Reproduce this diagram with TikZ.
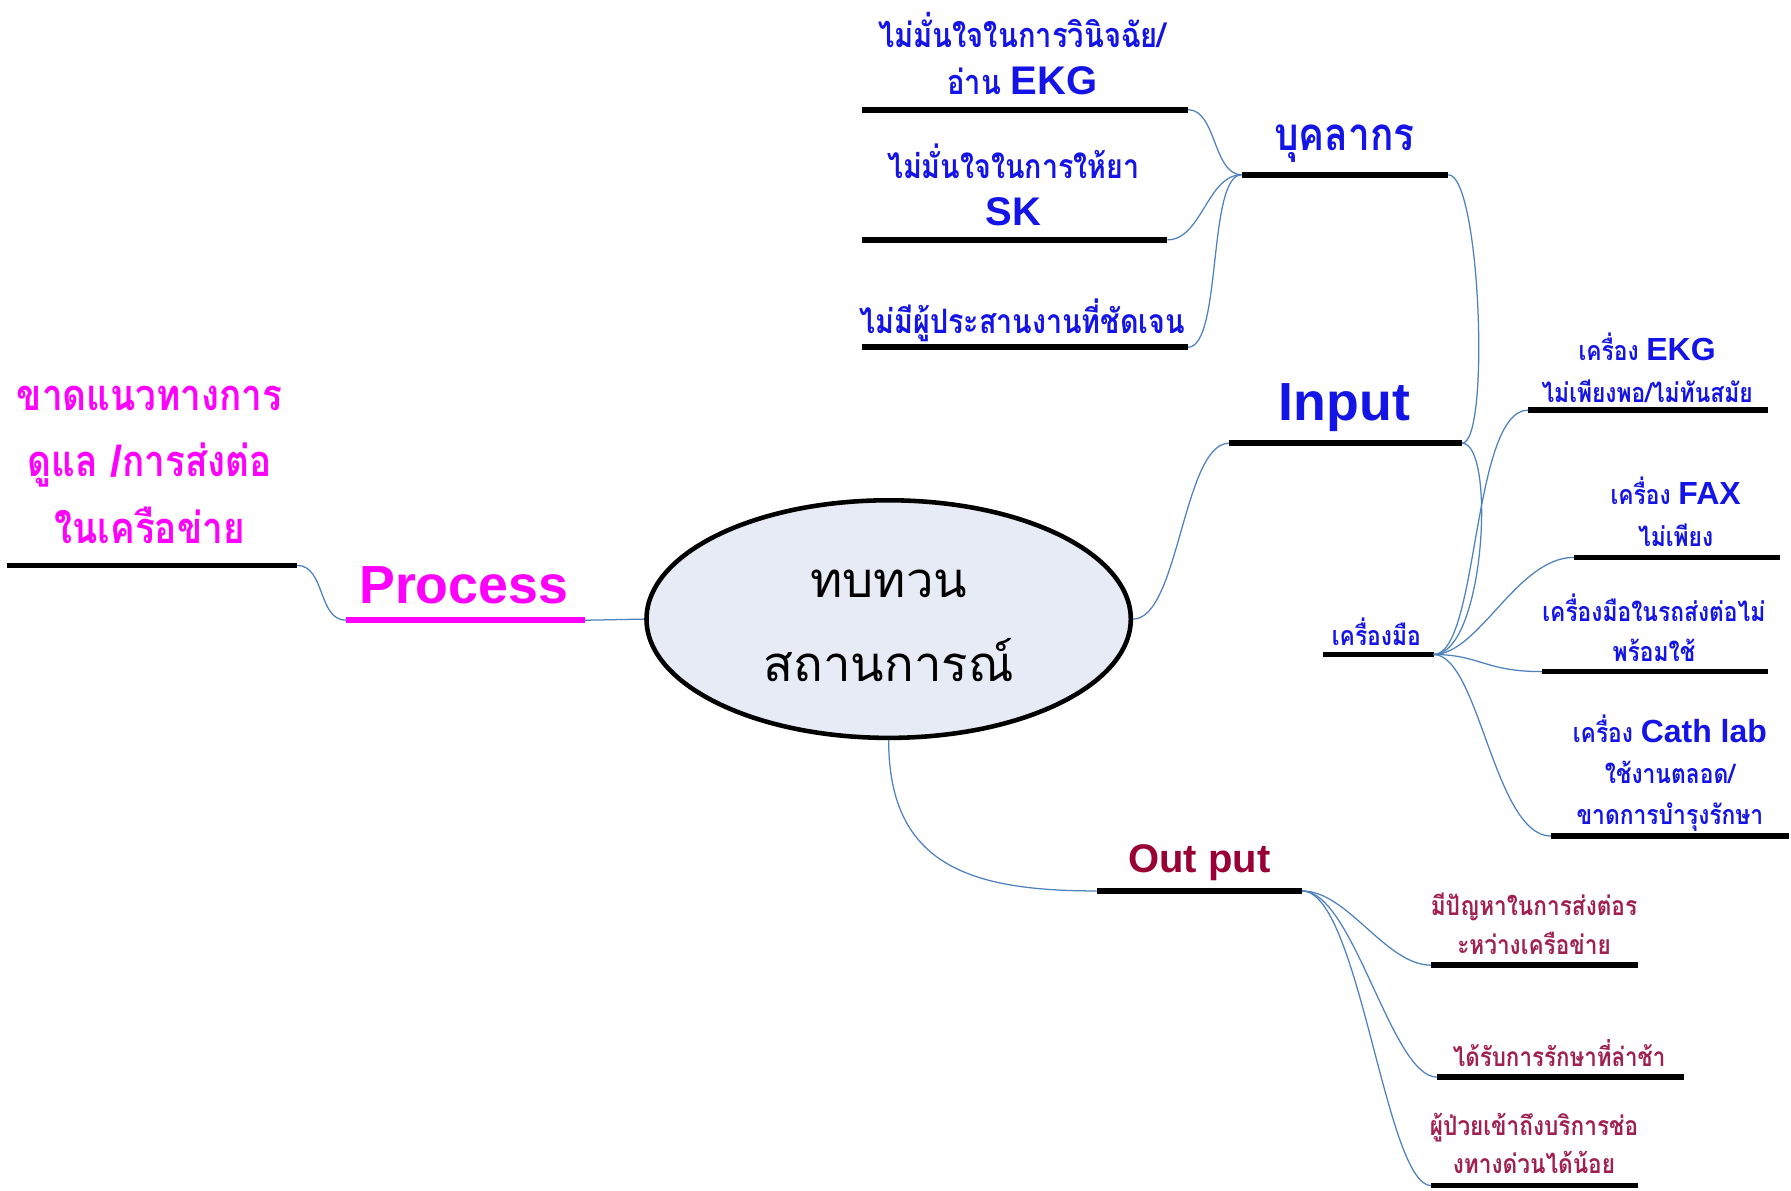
\documentclass[tikz,border=0pt]{standalone}
\usepackage{fontspec}
\newfontfamily\thai[Script=Thai]{Loma}
\newfontfamily\thaib[Script=Thai,FakeStretch=0.85]{Loma}
\newfontfamily\lat{Liberation Sans}
\usetikzlibrary{shapes.geometric}
\definecolor{tblue}{RGB}{20,20,230}
\definecolor{tmag}{RGB}{255,0,255}
\definecolor{tred}{RGB}{153,0,51}
\definecolor{tred2}{RGB}{160,32,80}
\definecolor{linkc}{RGB}{79,129,189}
\definecolor{efill}{RGB}{230,235,245}
\newcommand\eng[1]{{\lat\bfseries #1}}
\newcommand\fs[2]{\fontsize{#1}{#2}\selectfont}
\begin{document}
\begin{tikzpicture}[x=1pt,y=-1pt,
  bar/.style={line width=5pt},
  link/.style={draw=linkc, line width=1.1pt},
  txt/.style={inner sep=0pt, align=center}]
\useasboundingbox (0,0) rectangle (1568,1042);
% centre
\node[ellipse, draw, line width=4pt, fill=efill, minimum width=424pt, minimum height=208pt, inner sep=0pt] (c) at (778,542) {};
\node[txt, font={\thai\fs{43}{73}}] (ct) at (778,548) {ทบทวน\\สถานการณ์};
% Process
\node[txt, text=tmag, font={\lat\bfseries\fs{47}{50}}] (proct) at (406,512) {Process};
\coordinate (pa) at (303,543); \coordinate (pb) at (512,543);
\draw[bar, draw=tmag] (pa) -- (pb);
\node[txt, text=tmag, font={\thaib\bfseries\fs{38}{58}}] (qt) at (131,407) {ขาดแนวทางการ\\ดูแล \eng{/}การส่งต่อ\\ในเครือข่าย};
\coordinate (qa) at (6,495); \coordinate (qb) at (260,495);
\draw[bar] (qa) -- (qb);
% Input
\node[txt, text=tblue, font={\lat\bfseries\fs{47}{50}}] (int) at (1177,357) {Input};
\coordinate (ia) at (1076,388); \coordinate (ib) at (1280,388);
\draw[bar] (ia) -- (ib);
% personnel
\node[txt, text=tblue, font={\thaib\bfseries\fs{40}{44}}] (bt) at (1177,126) {บุคลากร};
\coordinate (ba) at (1087,153); \coordinate (bb) at (1268,153);
\draw[bar] (ba) -- (bb);
\node[txt, text=tblue, font={\thaib\bfseries\fs{30}{41}}] (c1t) at (895,47) {ไม่มั่นใจในการวินิจฉัย/\\อ่าน \eng{\fs{35}{41}EKG}};
\coordinate (c1a) at (755,96); \coordinate (c1b) at (1040,96);
\draw[bar] (c1a) -- (c1b);
\node[txt, text=tblue, font={\thaib\bfseries\fs{29.5}{41}}] (c2t) at (887,162) {ไม่มั่นใจในการให้ยา\\\eng{\fs{35}{41}SK}};
\coordinate (c2a) at (755,210); \coordinate (c2b) at (1022,210);
\draw[bar] (c2a) -- (c2b);
\node[txt, text=tblue, font={\thaib\bfseries\fs{29.5}{41}}] (c3t) at (895,280) {ไม่มีผู้ประสานงานที่ชัดเจน};
\coordinate (c3a) at (755,304); \coordinate (c3b) at (1040,304);
\draw[bar] (c3a) -- (c3b);
% tools
\node[txt, text=tblue, font={\thaib\bfseries\fs{23.5}{26}}] (kt) at (1205,553) {เครื่องมือ};
\coordinate (ka) at (1158,573); \coordinate (kb) at (1255,573);
\draw[bar] (ka) -- (kb);
\node[txt, text=tblue, font={\thaib\bfseries\fs{23.5}{37}}] (e1t) at (1442,322) {เครื่อง \eng{\fs{28}{37}EKG}\\ไม่เพียงพอ/ไม่ทันสมัย};
\coordinate (e1a) at (1338,359); \coordinate (e1b) at (1548,359);
\draw[bar] (e1a) -- (e1b);
\node[txt, text=tblue, font={\thaib\bfseries\fs{23.5}{36}}] (e2t) at (1467,448) {เครื่อง \eng{\fs{28}{36}FAX}\\ไม่เพียง};
\coordinate (e2a) at (1378,488); \coordinate (e2b) at (1558,488);
\draw[bar] (e2a) -- (e2b);
\node[txt, text=tblue, font={\thaib\bfseries\fs{23.5}{35}}] (e3t) at (1448,550) {เครื่องมือในรถส่งต่อไม่\\พร้อมใช้};
\coordinate (e3a) at (1350,588); \coordinate (e3b) at (1548,588);
\draw[bar] (e3a) -- (e3b);
\node[txt, text=tblue, font={\thaib\bfseries\fs{23.5}{36}}] (e4t) at (1462,677) {เครื่อง \eng{\fs{28}{36}Cath lab}\\ใช้งานตลอด/\\ขาดการบำรุงรักษา};
\coordinate (e4a) at (1358,732); \coordinate (e4b) at (1566,732);
\draw[bar] (e4a) -- (e4b);
% output
\node[txt, text=tred, font={\lat\bfseries\fs{35}{40}}] (ot) at (1050,755) {Out put};
\coordinate (oa) at (960,780); \coordinate (ob) at (1140,780);
\draw[bar] (oa) -- (ob);
\node[txt, text=tred2, font={\thaib\bfseries\fs{23.3}{34}}] (o1t) at (1343,809) {มีปัญหาในการส่งต่อร\\ะหว่างเครือข่าย};
\coordinate (o1a) at (1253,845); \coordinate (o1b) at (1434,845);
\draw[bar] (o1a) -- (o1b);
\node[txt, text=tred2, font={\thaib\bfseries\fs{23}{34}}] (o2t) at (1365,922) {ได้รับการรักษาที่ล่าช้า};
\coordinate (o2a) at (1258,943); \coordinate (o2b) at (1474,943);
\draw[bar] (o2a) -- (o2b);
\node[txt, text=tred2, font={\thaib\bfseries\fs{23.3}{34}}] (o3t) at (1343,1001) {ผู้ป่วยเข้าถึงบริการช่อ\\งทางด่วนได้น้อย};
\coordinate (o3a) at (1253,1038); \coordinate (o3b) at (1434,1038);
\draw[bar] (o3a) -- (o3b);
% connectors
\draw[link] (c.west) -- (pb);
\draw[link] (qb) .. controls +(25,0) and +(-25,0) .. (pa);
\draw[link] (c.east) .. controls +(40,0) and +(-40,0) .. (ia);
\draw[link] (ib) .. controls +(25,0) and +(28,0) .. (bb);
\draw[link] (ib) .. controls +(30,0) and +(45,0) .. (kb);
\draw[link] (ba) .. controls +(-25,0) and +(25,0) .. (c1b);
\draw[link] (ba) .. controls +(-30,0) and +(30,0) .. (c2b);
\draw[link] (ba) .. controls +(-30,0) and +(30,0) .. (c3b);
\draw[link] (kb) .. controls +(40,0) and +(-50,0) .. (e1a);
\draw[link] (kb) .. controls +(40,0) and +(-50,0) .. (e2a);
\draw[link] (kb) .. controls +(40,0) and +(-50,0) .. (e3a);
\draw[link] (kb) .. controls +(40,0) and +(-50,0) .. (e4a);
\draw[link] (c.south) .. controls +(0,110) and +(-110,0) .. (oa);
\draw[link] (ob) .. controls +(40,0) and +(-40,0) .. (o1a);
\draw[link] (ob) .. controls +(45,0) and +(-40,0) .. (o2a);
\draw[link] (ob) .. controls +(50,0) and +(-40,0) .. (o3a);
\end{tikzpicture}
\end{document}
